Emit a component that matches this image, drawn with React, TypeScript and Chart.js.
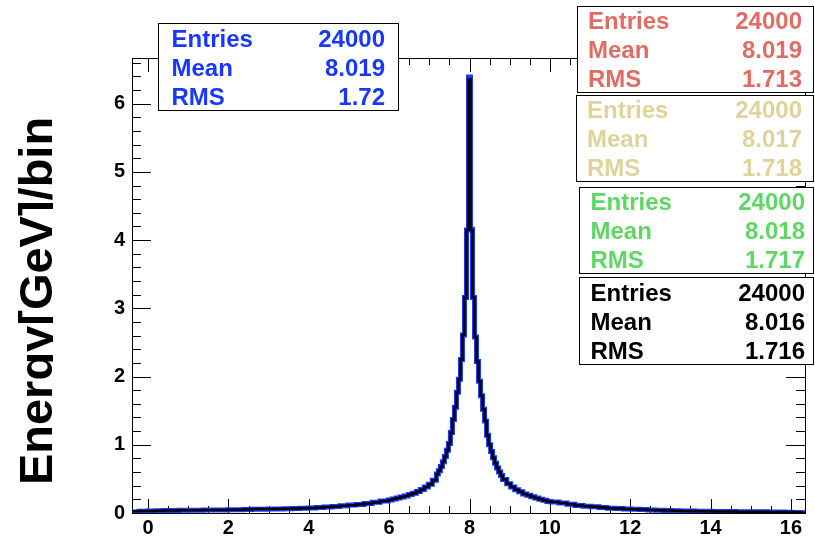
import { useEffect, useRef } from 'react';
import { Chart, registerables } from 'chart.js';

Chart.register(...registerables);

// Histogram binning: [first lower edge, bin width, number of bins]
const binSegments: [number, number, number][] = [
  [-0.425, 0.2, 32],
  [5.975, 0.1, 12],
  [7.175, 0.05, 33],
  [8.825, 0.1, 12],
  [10.025, 0.2, 33],
];

// Energy per bin, black histogram
const blackValues = [
  0.027, 0.028, 0.030, 0.032, 0.035, 0.038, 0.040, 0.041, 0.042, 0.043,
  0.044, 0.045, 0.046, 0.048, 0.052, 0.058, 0.059, 0.060, 0.061, 0.063,
  0.067, 0.071, 0.075, 0.080, 0.088, 0.095, 0.105, 0.115, 0.125, 0.140,
  0.155, 0.175,
  0.19, 0.205, 0.22, 0.235, 0.25, 0.27, 0.29, 0.315, 0.345, 0.38, 0.42, 0.48,
  0.57, 0.62, 0.68, 0.75, 0.83, 0.92, 1.02, 1.18, 1.37, 1.55, 1.77, 1.96, 2.25, 2.61, 3.16, 4.15,
  6.36,
  4.15, 3.16, 2.58, 2.22, 1.93, 1.72, 1.52, 1.35, 1.14, 1.00, 0.90, 0.81, 0.73, 0.66, 0.60, 0.55,
  0.49, 0.43, 0.38, 0.34, 0.31, 0.28, 0.26, 0.24, 0.22, 0.20, 0.185, 0.17,
  0.16, 0.145, 0.13, 0.11, 0.10, 0.09, 0.08, 0.07, 0.065, 0.06,
  0.055, 0.05, 0.045, 0.04, 0.035, 0.032, 0.03, 0.028, 0.025, 0.024,
  0.023, 0.022, 0.021, 0.02, 0.019, 0.018, 0.017, 0.016, 0.015, 0.014,
  0.01, 0.005, 0.003,
];

// Energy per bin, blue histogram
const blueValues = [
  0.015, 0.026, 0.030, 0.033, 0.036, 0.038, 0.040, 0.041, 0.042, 0.043,
  0.044, 0.045, 0.047, 0.048, 0.050, 0.054, 0.056, 0.058, 0.060, 0.063,
  0.067, 0.071, 0.075, 0.081, 0.088, 0.096, 0.105, 0.116, 0.126, 0.141,
  0.156, 0.176,
  0.19, 0.206, 0.22, 0.236, 0.25, 0.27, 0.29, 0.316, 0.345, 0.38, 0.42, 0.48,
  0.57, 0.62, 0.68, 0.75, 0.83, 0.92, 1.02, 1.18, 1.37, 1.55, 1.77, 1.96, 2.25, 2.61, 3.16, 4.15,
  6.39,
  4.16, 3.16, 2.58, 2.22, 1.93, 1.72, 1.52, 1.35, 1.14, 1.00, 0.90, 0.81, 0.73, 0.66, 0.60, 0.55,
  0.49, 0.43, 0.38, 0.34, 0.31, 0.28, 0.26, 0.24, 0.22, 0.20, 0.186, 0.17,
  0.16, 0.145, 0.13, 0.11, 0.10, 0.09, 0.08, 0.07, 0.065, 0.06,
  0.055, 0.05, 0.045, 0.04, 0.036, 0.033, 0.03, 0.028, 0.026, 0.024,
  0.023, 0.022, 0.021, 0.02, 0.019, 0.018, 0.017, 0.016, 0.015, 0.012,
  0.008, 0.004, 0.002,
];

const xTickLabels = [0, 2, 4, 6, 8, 10, 12, 14, 16];
const yTickLabels = [0, 1, 2, 3, 4, 5, 6];
const X_MIN = -0.4;
const X_MAX = 16.35;
const Y_MAX = 6.67;
const X_MINOR = 0.5;
const Y_MINOR = 0.2;

const yTitle = 'Energy[GeV]/bin';

const statNames = ['Entries', 'Mean', 'RMS'];
const blueStats = ['24000', '8.019', '1.72'];
const redStats = ['24000', '8.019', '1.713'];
const yellowStats = ['24000', '8.017', '1.718'];
const greenStats = ['24000', '8.018', '1.717'];
const blackStats = ['24000', '8.016', '1.716'];

const BLUE = 'rgb(25, 55, 255)';
const RED = 'rgb(226, 108, 100)';
const YELLOW = 'rgb(222, 212, 155)';
const GREEN = 'rgb(95, 215, 100)';
const BLACK = '#000000';

type StatBox = {
  values: string[];
  color: string;
  left: number;
  top: number;
  right: number;
  bottom: number;
  textLeft: number;
  textRight: number;
};

const statBoxes: StatBox[] = [
  { values: blueStats, color: BLUE, left: 158, top: 23, right: 398, bottom: 110, textLeft: 171.5, textRight: 385 },
  { values: redStats, color: RED, left: 577, top: 6, right: 813, bottom: 92, textLeft: 588, textRight: 802 },
  { values: yellowStats, color: YELLOW, left: 576, top: 95, right: 813, bottom: 181, textLeft: 587, textRight: 802 },
  { values: greenStats, color: GREEN, left: 579, top: 187, right: 813, bottom: 273, textLeft: 590.5, textRight: 805 },
  { values: blackStats, color: BLACK, left: 579, top: 277, right: 813, bottom: 364, textLeft: 590.5, textRight: 805 },
];

function binEdges(): number[] {
  const edges: number[] = [];
  binSegments.forEach(([lo, w, n], s) => {
    for (let i = 0; i < n; i++) edges.push(+(lo + i * w).toFixed(4));
    if (s === binSegments.length - 1) edges.push(+(lo + n * w).toFixed(4));
  });
  return edges;
}

function histPoints(values: number[]) {
  const edges = binEdges();
  const pts = values.map((v, i) => ({ x: edges[i], y: v }));
  pts.push({ x: edges[values.length], y: values[values.length - 1] });
  return pts;
}

const crisp = (v: number) => Math.round(v) + 0.5;

const frameAndTicks = {
  id: 'frameAndTicks',
  beforeDatasetsDraw(chart: any) {
    const { ctx, chartArea: a, scales } = chart;
    const xs = scales.x;
    const ys = scales.y;
    ctx.save();
    ctx.strokeStyle = '#000';
    ctx.lineWidth = 1;
    ctx.beginPath();
    // x ticks, bottom and top
    for (let v = 0; v <= X_MAX + 1e-9; v += X_MINOR) {
      if (v < X_MIN) continue;
      const major = xTickLabels.some((t) => Math.abs(t - v) < 1e-6);
      const len = major ? 14 : 7;
      const px = crisp(xs.getPixelForValue(v));
      ctx.moveTo(px, a.bottom);
      ctx.lineTo(px, a.bottom - len);
      ctx.moveTo(px, a.top);
      ctx.lineTo(px, a.top + len);
    }
    // y ticks, left and right
    for (let v = 0; v <= Y_MAX + 1e-9; v += Y_MINOR) {
      const major = yTickLabels.some((t) => Math.abs(t - v) < 1e-6);
      const len = major ? 19 : 9;
      const py = crisp(ys.getPixelForValue(v));
      ctx.moveTo(a.left, py);
      ctx.lineTo(a.left + len, py);
      ctx.moveTo(a.right, py);
      ctx.lineTo(a.right - len, py);
    }
    ctx.stroke();
    ctx.strokeRect(crisp(a.left), crisp(a.top), Math.round(a.right - a.left), Math.round(a.bottom - a.top));
    ctx.restore();
  },
  afterDraw(chart: any) {
    const { ctx } = chart;
    // y-axis title, clipped at the canvas edge column
    ctx.save();
    ctx.beginPath();
    ctx.rect(0, 0, 53, chart.height);
    ctx.clip();
    ctx.translate(52, 301);
    ctx.rotate(-Math.PI / 2);
    ctx.font = 'bold 47px "Liberation Sans", Arial, sans-serif';
    ctx.fillStyle = '#000';
    ctx.textAlign = 'center';
    ctx.textBaseline = 'alphabetic';
    ctx.fillText(yTitle, 0, 0);
    ctx.restore();

    // statistics boxes
    ctx.save();
    ctx.font = 'bold 24px "Liberation Sans", Arial, sans-serif';
    ctx.textBaseline = 'alphabetic';
    statBoxes.forEach((b) => {
      ctx.fillStyle = '#fff';
      ctx.fillRect(b.left, b.top, b.right - b.left, b.bottom - b.top);
      ctx.strokeStyle = '#000';
      ctx.lineWidth = 1;
      ctx.strokeRect(crisp(b.left), crisp(b.top), Math.round(b.right - b.left), Math.round(b.bottom - b.top));
      const rowH = (b.bottom - b.top) / 3;
      ctx.fillStyle = b.color;
      statNames.forEach((name, i) => {
        const y = b.top + rowH * (i + 0.5) + 9;
        ctx.textAlign = 'left';
        ctx.fillText(name, b.textLeft, y);
        ctx.textAlign = 'right';
        ctx.fillText(b.values[i], b.textRight, y);
      });
    });
    ctx.restore();
  },
};

export default function App() {
  const canvasRef = useRef<HTMLCanvasElement | null>(null);

  useEffect(() => {
    document.body.style.margin = '0';
    const canvas = canvasRef.current;
    if (!canvas) return;
    const tickFont = { family: '"Liberation Sans", Arial, sans-serif', size: 20, weight: 'bold' as const };
    const chart = new Chart(canvas, {
      type: 'line',
      data: {
        datasets: [
          {
            label: 'blue',
            data: histPoints(blueValues),
            borderColor: BLUE,
            borderWidth: 5,
            stepped: true,
            pointRadius: 0,
            fill: false,
            borderJoinStyle: 'miter',
            order: 2,
          },
          {
            label: 'black',
            data: histPoints(blackValues),
            borderColor: BLACK,
            borderWidth: 2.5,
            stepped: true,
            pointRadius: 0,
            fill: false,
            borderJoinStyle: 'miter',
            order: 1,
          },
        ],
      },
      options: {
        animation: false,
        responsive: false,
        devicePixelRatio: 1,
        parsing: false,
        layout: { padding: { left: 0, top: 58, right: 10, bottom: 0 } },
        plugins: { legend: { display: false }, tooltip: { enabled: false } },
        scales: {
          x: {
            type: 'linear',
            min: X_MIN,
            max: X_MAX,
            grid: { display: false, drawTicks: false },
            border: { display: false },
            ticks: { font: tickFont, color: '#000', padding: 3, maxRotation: 0 },
            afterBuildTicks: (scale: any) => {
              scale.ticks = xTickLabels.map((v) => ({ value: v }));
            },
            afterFit: (scale: any) => {
              scale.height = 24;
            },
          },
          y: {
            type: 'linear',
            min: 0,
            max: Y_MAX,
            grid: { display: false, drawTicks: false },
            border: { display: false },
            ticks: { font: tickFont, color: '#000', padding: 7 },
            afterBuildTicks: (scale: any) => {
              scale.ticks = yTickLabels.map((v) => ({ value: v }));
            },
            afterFit: (scale: any) => {
              scale.width = 132;
            },
          },
        },
      },
      plugins: [frameAndTicks],
    });
    return () => chart.destroy();
  }, []);

  return (
    <canvas
      ref={canvasRef}
      width={815}
      height={537}
      style={{ display: 'block', width: '815px', height: '537px' }}
    />
  );
}
